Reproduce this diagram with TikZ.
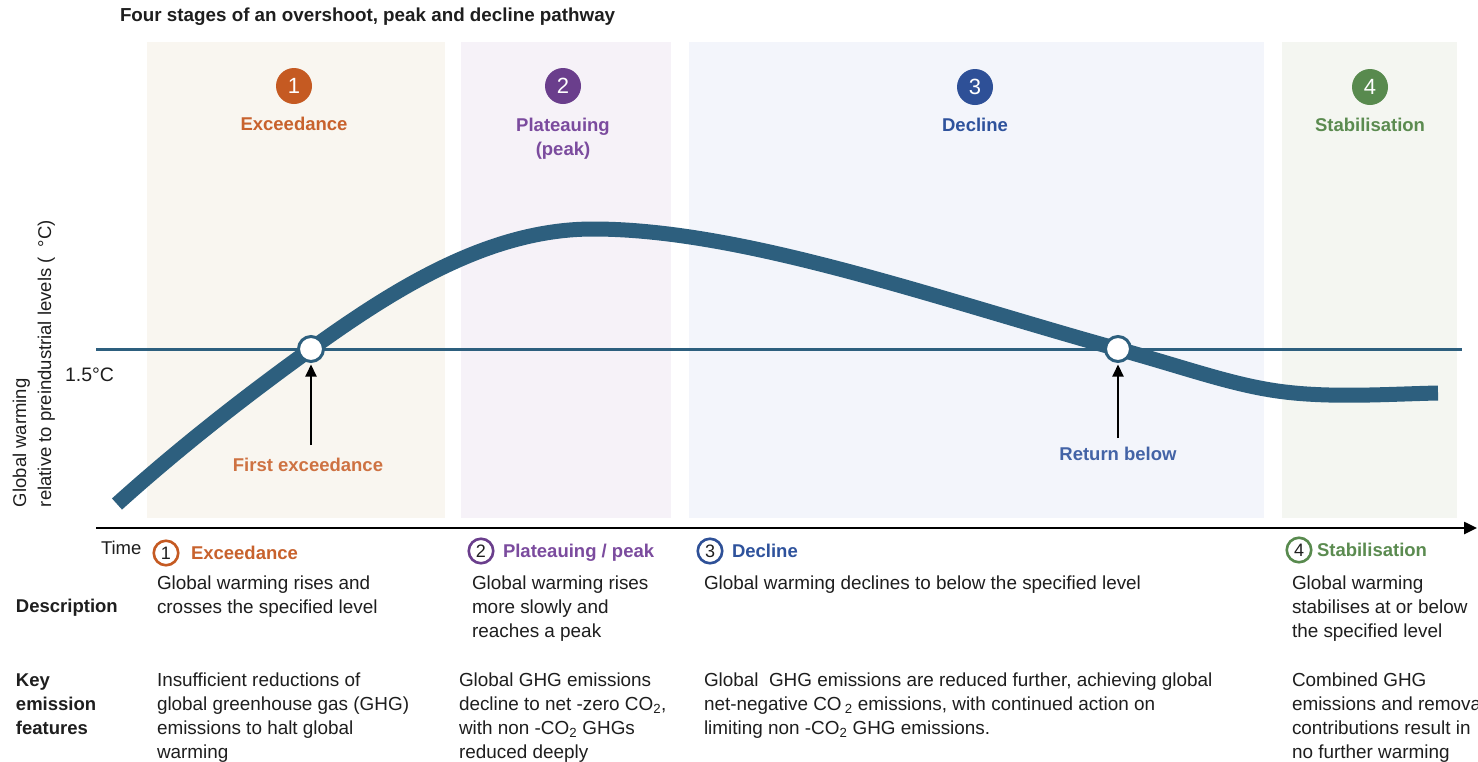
\documentclass[tikz,border=0pt]{standalone}
\usepackage{fontspec}
\setmainfont{Liberation Sans}
\usetikzlibrary{arrows.meta}
\definecolor{curvec}{HTML}{2D5F7E}
\definecolor{pone}{HTML}{F9F6F0}
\definecolor{ptwo}{HTML}{F6F2F8}
\definecolor{pthree}{HTML}{F3F5FB}
\definecolor{pfour}{HTML}{F4F6F1}
\definecolor{cone}{HTML}{C55A22}
\definecolor{ctwo}{HTML}{6A3E8C}
\definecolor{cthree}{HTML}{2E5097}
\definecolor{cfour}{HTML}{588A4E}
\definecolor{tone}{HTML}{C8622D}
\definecolor{ttwo}{HTML}{7B4B9E}
\definecolor{tthree}{HTML}{2E529C}
\definecolor{tfour}{HTML}{5B8B50}
\definecolor{txtc}{HTML}{1E1E1E}
\begin{document}
\begin{tikzpicture}[x=1pt,y=-1pt,
  every node/.style={inner sep=0pt, outer sep=0pt},
  body/.style={font=\fontsize{18.9}{24.3}\selectfont, text=txtc, align=left, anchor=base west},
  bodyb/.style={body, font=\fontsize{18.5}{24.3}\selectfont\bfseries},
  hdr/.style={font=\fontsize{18.5}{24.3}\selectfont\bfseries, anchor=base west},
  tophdr/.style={font=\fontsize{18.5}{24.3}\selectfont\bfseries, anchor=base, align=center},
  badge/.style={circle, minimum size=36pt, text=white, font=\fontsize{22}{22}\selectfont},
  obadge/.style={circle, line width=2.6pt, fill=white, minimum size=24.5pt, text=txtc, font=\fontsize{18}{18}\selectfont},
  marker/.style={circle, draw=curvec, fill=white, line width=3pt, minimum size=25pt},
  ptr/.style={line width=2pt, -{Triangle[length=12pt,width=11pt]}},
  lab/.style={font=\fontsize{18.5}{22}\selectfont, text=txtc, anchor=base west}
]
\useasboundingbox (0,0) rectangle (1478,761);
\fill[white] (0,0) rectangle (1478,761);

% title
\node[hdr, text=txtc, font=\fontsize{18.8}{22}\selectfont\bfseries] (title) at (120,21) {Four stages of an overshoot, peak and decline pathway};

% stage panels
\fill[pone] (147,42) rectangle (445,518);
\fill[ptwo] (461,42) rectangle (671,518);
\fill[pthree] (689,42) rectangle (1264,518);
\fill[pfour] (1282,42) rectangle (1457,518);

% top badges and labels
\node[badge, fill=cone] (b1) at (294,86) {1};
\node[badge, fill=ctwo] (b2) at (563,86) {2};
\node[badge, fill=cthree] (b3) at (975,87) {3};
\node[badge, fill=cfour] (b4) at (1370,87) {4};
\node[tophdr, text=tone] (n1) at (294,130) {Exceedance};
\node[tophdr, text=ttwo] (n2) at (563,155.3) {Plateauing\\(peak)};
\node[tophdr, text=tthree] (n3) at (975,131) {Decline};
\node[tophdr, text=tfour] (n4) at (1370,131) {Stabilisation};

% 1.5 degree line
\coordinate (lvl0) at (96,349);
\coordinate (lvl1) at (1462,349);
\draw[curvec, line width=3pt] (lvl0) -- (lvl1);
\node[lab, font=\fontsize{19.5}{22}\selectfont] (lvl) at (65,381) {1.5°C};

% warming curve
\draw[curvec, line width=15pt] (117,504)
  .. controls (177,450) and (241,399.4) .. (311,349)
  .. controls (401,284) and (493,229) .. (593,229)
  .. controls (743,229) and (938,299) .. (1118,349)
  .. controls (1190,369) and (1235,386) .. (1285,392)
  .. controls (1335,398) and (1390,394) .. (1438,393);

% crossing markers and pointers
\node[marker] (fe) at (311,349) {};
\node[marker] (rb) at (1118,349) {};
\coordinate (fetail) at (311,445);
\coordinate (rbtail) at (1118,438);
\draw[ptr] (fetail) -- ([yshift=-3pt]fe.south);
\draw[ptr] (rbtail) -- ([yshift=-3pt]rb.south);
\node[font=\fontsize{18.5}{22}\selectfont\bfseries, text=tone!90!white, anchor=base] (fel) at (308,471) {First exceedance};
\node[font=\fontsize{18.5}{22}\selectfont\bfseries, text=tthree!90!white, anchor=base] (rbl) at (1118,460) {Return below};

% y axis label
\node[lab, rotate=90] (yl1) at (26,507) {Global warming};
\node[lab, rotate=90] (yl2) at (51,507) {relative to preindustrial levels (\hspace{0.55em}°C)};

% time axis
\coordinate (ax0) at (96,528);
\coordinate (ax1) at (1477,528);
\draw[line width=2.5pt, -{Triangle[length=13pt,width=12pt]}] (ax0) -- (ax1);
\node[lab] (time) at (101,554) {Time};

% row labels (anchor is the baseline of the last line)
\node[bodyb] (desc) at (16,612) {Description};
\node[bodyb] (key) at (16,734.6) {Key\\emission\\features};

% stage 1
\node[obadge, draw=cone] (o1) at (166,553) {1};
\node[hdr, text=tone] (h1) at (191,559) {Exceedance};
\node[body] (d1) at (157,613.3) {Global warming rises and\\crosses the specified level};
\node[body] (k1) at (157,758.9) {Insufficient reductions of\\global greenhouse gas (GHG)\\emissions to halt global\\warming};

% stage 2
\node[obadge, draw=ctwo] (o2) at (481,551) {2};
\node[hdr, text=ttwo] (h2) at (503,557) {Plateauing / peak};
\node[body] (d2) at (472,637.6) {Global warming rises\\more slowly and\\reaches a peak};
\node[body] (k2) at (459,758.9) {Global GHG emissions\\decline to net -zero CO\textsubscript{2},\\with non -CO\textsubscript{2} GHGs\\reduced deeply};

% stage 3
\node[obadge, draw=cthree] (o3) at (710,551) {3};
\node[hdr, text=tthree] (h3) at (732,557) {Decline};
\node[body] (d3) at (704,589) {Global warming declines to below the specified level};
\node[body] (k3) at (704,734.6) {Global\hspace{0.55em}GHG emissions are reduced further, achieving global\\net-negative CO\,\textsubscript{2} emissions, with continued action on\\limiting non -CO\textsubscript{2} GHG emissions.};

% stage 4
\node[obadge, draw=cfour] (o4) at (1299,550) {4};
\node[hdr, text=tfour] (h4) at (1317,556) {Stabilisation};
\node[body] (d4) at (1292,637.6) {Global warming\\stabilises at or below\\the specified level};
\node[body] (k4) at (1292,758.9) {Combined GHG\\emissions and removal\\contributions result in\\no further warming};
\end{tikzpicture}
\end{document}
